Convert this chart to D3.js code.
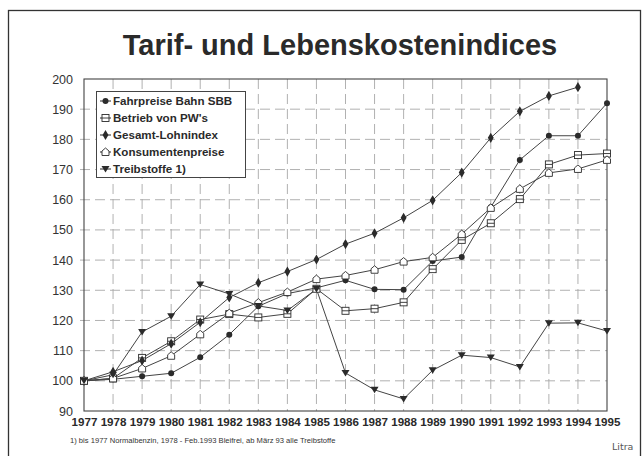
<!DOCTYPE html>
<html>
<head>
<meta charset="utf-8">
<script src="https://d3js.org/d3.v7.min.js"></script>
<style>
  body { margin: 0; background: #fff; }
  svg { font-family: "Liberation Sans", Arial, sans-serif; }
</style>
</head>
<body>
<svg id="chart"></svg>
<script>
  // Jahre und Indexwerte (1977 = 100)
  var years = [1977,1978,1979,1980,1981,1982,1983,1984,1985,1986,1987,1988,1989,1990,1991,1992,1993,1994,1995];
  var fahrpreise = [100,100.5,101.5,102.5,107.8,115.3,124.7,128.9,130.8,133.3,130.3,130.2,139.7,141.0,157.5,173.2,181.2,181.2,192.0];
  var pwBetrieb  = [100,100.8,107.6,113.1,120.3,122.1,121.0,122.2,130.5,123.2,123.9,126.0,137.0,146.7,152.2,160.2,171.7,174.8,175.3];
  var lohnindex  = [100,103.0,106.7,112.3,119.4,127.6,132.5,136.2,140.2,145.3,148.9,154.0,159.8,169.0,180.5,189.3,194.4,197.3,null];
  var konsum     = [100,100.8,104.1,108.3,115.4,122.4,125.9,129.4,133.7,134.9,136.8,139.5,140.9,148.6,157.3,163.6,168.9,170.2,173.2];
  var treibstoff = [100,102.0,116.2,121.4,131.9,128.8,124.8,123.3,130.4,102.6,97.0,94.0,103.5,108.5,107.7,104.6,119.1,119.2,116.5];
  var seriesNames = ["Fahrpreise Bahn SBB", "Betrieb von PW's", "Gesamt-Lohnindex", "Konsumentenpreise", "Treibstoffe 1)"];
  var seriesValues = [fahrpreise, pwBetrieb, lohnindex, konsum, treibstoff];
  var yTicks = [90,100,110,120,130,140,150,160,170,180,190,200];

  var W = 643, H = 456;
  var plotL = 84, plotR = 607, plotT = 79, plotB = 411;
  var ink = "#2b2b2b";

  var svg = d3.select('#chart').attr('width', W).attr('height', H);

  // Rahmen
  svg.append('rect').attr('x', 8.5).attr('y', 10.5).attr('width', 632).attr('height', 470)
    .attr('fill', '#fff').attr('stroke', '#333').attr('stroke-width', 1.3);

  svg.append('text').attr('x', 340).attr('y', 55).attr('text-anchor', 'middle')
    .attr('font-size', 29).attr('font-weight', 'bold').attr('fill', '#2a2a2a')
    .text('Tarif- und Lebenskostenindices');

  var x = d3.scalePoint().domain(years).range([plotL, plotR]);
  var y = d3.scaleLinear().domain([90, 200]).range([plotB, plotT]);

  // Gitter
  var grid = svg.append('g');
  grid.selectAll('line.h').data(yTicks.slice(1, -1)).enter().append('line')
    .attr('x1', plotL - 4).attr('x2', plotR).attr('y1', d => y(d)).attr('y2', d => y(d))
    .attr('stroke', '#a8a8a8').attr('stroke-dasharray', '10,5').attr('stroke-width', 0.9);
  grid.selectAll('line.v').data(years.slice(1, -1)).enter().append('line')
    .attr('y1', plotT).attr('y2', plotB).attr('x1', d => x(d)).attr('x2', d => x(d))
    .attr('stroke', '#a8a8a8').attr('stroke-dasharray', '10,5').attr('stroke-width', 0.9);

  svg.append('rect').attr('x', plotL).attr('y', plotT).attr('width', plotR - plotL).attr('height', plotB - plotT)
    .attr('fill', 'none').attr('stroke', '#444').attr('stroke-width', 1.1);

  // Achsen
  var yAxis = svg.append('g').attr('transform', 'translate(' + plotL + ',0)')
    .call(d3.axisLeft(y).tickValues(yTicks).tickSize(0).tickPadding(11).tickFormat(d3.format('d')));
  yAxis.select('.domain').remove();
  yAxis.selectAll('text').attr('font-size', 12.5).attr('fill', '#333').attr('font-family', '"Liberation Sans", Arial, sans-serif');

  var xAxis = svg.append('g').attr('transform', 'translate(0,' + plotB + ')')
    .call(d3.axisBottom(x).tickSize(0).tickPadding(7).tickFormat(d => d));
  xAxis.select('.domain').remove();
  xAxis.selectAll('text').attr('font-size', 11.6).attr('font-weight', 'bold').attr('fill', '#2a2a2a')
    .attr('font-family', '"Liberation Sans", Arial, sans-serif');

  // Marker
  function marker(g, k, cx, cy) {
    if (k === 0) {
      g.append('circle').attr('cx', cx).attr('cy', cy).attr('r', 3).attr('fill', ink);
    } else if (k === 1) {
      g.append('rect').attr('x', cx - 3.5).attr('y', cy - 3.5).attr('width', 7).attr('height', 7)
        .attr('fill', '#fff').attr('stroke', ink).attr('stroke-width', 0.9);
      g.append('line').attr('x1', cx - 3.5).attr('x2', cx + 3.5).attr('y1', cy).attr('y2', cy)
        .attr('stroke', ink).attr('stroke-width', 0.9);
    } else if (k === 2) {
      g.append('path').attr('d', d3.symbol().type(d3.symbolDiamond).size(30)())
        .attr('transform', 'translate(' + cx + ',' + cy + ')').attr('fill', ink);
    } else if (k === 3) {
      g.append('path').attr('d', 'M-3.5,3.5 L-3.5,-1 L0,-4 L3.5,-1 L3.5,3.5 Z')
        .attr('transform', 'translate(' + cx + ',' + cy + ')')
        .attr('fill', '#fff').attr('stroke', ink).attr('stroke-width', 0.9);
    } else {
      g.append('path').attr('d', 'M-4,-3 L4,-3 L0,3.5 Z')
        .attr('transform', 'translate(' + cx + ',' + cy + ')').attr('fill', ink);
    }
  }

  var line = d3.line().defined(d => d != null).x((d, i) => x(years[i])).y(d => y(d));

  seriesValues.forEach(function(vals, k) {
    svg.append('path').datum(vals).attr('d', line)
      .attr('fill', 'none').attr('stroke', '#444').attr('stroke-width', 1);
  });
  seriesValues.forEach(function(vals, k) {
    var g = svg.append('g');
    vals.forEach(function(v, i) {
      if (v != null) marker(g, k, x(years[i]), y(v));
    });
  });

  // Legende
  var leg = svg.append('g');
  leg.append('rect').attr('x', 96.5).attr('y', 91.5).attr('width', 149).attr('height', 86)
    .attr('fill', '#fff').attr('stroke', '#444').attr('stroke-width', 1);
  seriesNames.forEach(function(name, k) {
    var ly = 101 + k * 17;
    leg.append('line').attr('x1', 100).attr('x2', 111).attr('y1', ly).attr('y2', ly)
      .attr('stroke', ink).attr('stroke-width', 1);
    marker(leg, k, 105.5, ly);
    leg.append('text').attr('x', 113).attr('y', ly + 4.2).attr('font-size', 11.6)
      .attr('font-weight', 'bold').attr('fill', '#2a2a2a').text(name);
  });

  svg.append('text').attr('x', 70).attr('y', 443).attr('font-size', 7.6).attr('fill', '#333')
    .text('1) bis 1977 Normalbenzin, 1978 - Feb.1993 Bleifrei, ab März 93 alle Treibstoffe');
  svg.append('text').attr('x', 612).attr('y', 450).attr('font-size', 9.5).attr('fill', '#555')
    .attr('font-family', '"DejaVu Sans", sans-serif').text('Litra');
</script>
</body>
</html>
